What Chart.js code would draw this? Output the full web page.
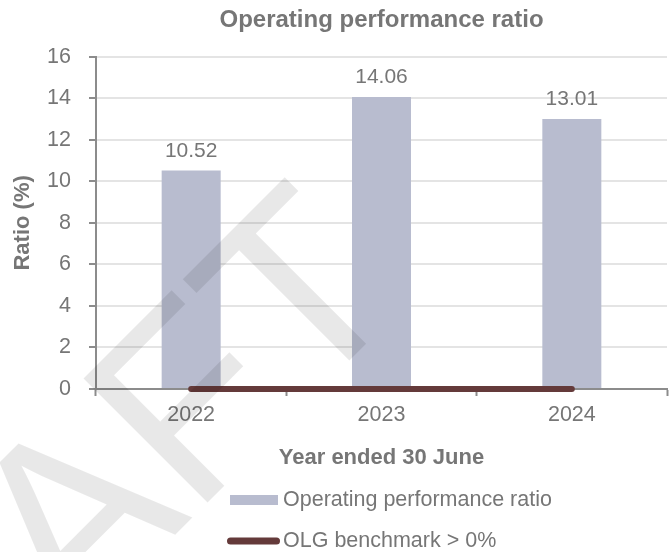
<!DOCTYPE html>
<html>
<head>
<meta charset="utf-8">
<script src="https://cdn.jsdelivr.net/npm/chart.js@4.4.1/dist/chart.umd.min.js"></script>
<style>
  html, body { margin: 0; padding: 0; background: #fff; }
  #chart { display: block; }
</style>
</head>
<body>
<canvas id="chart" width="669" height="552"></canvas>
<script>
// Chart values
const years = ['2022', '2023', '2024'];
const ratioValues = [10.52, 14.06, 13.01];
const benchmarkValues = [0, 0, 0];
const yTicks = [0, 2, 4, 6, 8, 10, 12, 14, 16];
const seriesNames = ['Operating performance ratio', 'OLG benchmark > 0%'];
const watermarkText = 'DRAFT';

const barColor = '#b8bccf';
const lineColor = '#643a3a';
const textColor = '#767676';
const axisColor = '#8c8c8c';
const gridColor = '#e4e4e4';
const fontFamily = '"Liberation Sans", Arial, sans-serif';

// Big diagonal watermark over the plot
const watermark = {
    id: 'watermark',
    afterDatasetsDraw(chart) {
        const ctx = chart.ctx;
        ctx.save();
        ctx.translate(413, 297);
        ctx.rotate(-Math.PI / 4);
        ctx.font = '255px ' + fontFamily;
        ctx.fillStyle = 'rgba(0, 0, 0, 0.09)';
        ctx.textAlign = 'right';
        ctx.textBaseline = 'alphabetic';
        ctx.fillText(watermarkText, 0, 0);
        ctx.restore();
    }
};

// Value labels above the bars
const barLabels = {
    id: 'barLabels',
    afterDatasetsDraw(chart) {
        const ctx = chart.ctx;
        const index = chart.data.datasets.findIndex(d => d.type === 'bar');
        const meta = chart.getDatasetMeta(index);
        ctx.save();
        ctx.font = '21px ' + fontFamily;
        ctx.fillStyle = textColor;
        ctx.textAlign = 'center';
        ctx.textBaseline = 'alphabetic';
        meta.data.forEach((bar, i) => {
            ctx.fillText(ratioValues[i].toFixed(2), bar.x, bar.y - 14);
        });
        ctx.restore();
    }
};

// Legend stacked in two left-aligned rows
const stackedLegend = {
    id: 'stackedLegend',
    afterDraw(chart) {
        const ctx = chart.ctx;
        const rows = [500, 541];
        const x0 = 230;
        const textX = 283;
        ctx.save();
        ctx.fillStyle = barColor;
        ctx.fillRect(x0, rows[0] - 5, 48, 10);

        ctx.strokeStyle = lineColor;
        ctx.lineWidth = 7;
        ctx.lineCap = 'round';
        ctx.beginPath();
        ctx.moveTo(x0 + 0.5, rows[1]);
        ctx.lineTo(x0 + 46.5, rows[1]);
        ctx.stroke();

        ctx.font = '21.5px ' + fontFamily;
        ctx.fillStyle = textColor;
        ctx.textAlign = 'left';
        ctx.textBaseline = 'middle';
        ctx.fillText(seriesNames[0], textX, rows[0]);
        ctx.fillText(seriesNames[1], textX, rows[1]);
        ctx.restore();
    }
};

const tickFont = { family: fontFamily, size: 21.5 };
const titleFont = { family: fontFamily, size: 22, weight: 'bold' };

new Chart(document.getElementById('chart'), {
    data: {
        labels: years,
        datasets: [
            {
                type: 'line',
                label: seriesNames[1],
                data: benchmarkValues,
                borderColor: lineColor,
                borderWidth: 6,
                borderCapStyle: 'round',
                pointRadius: 0,
                clip: false,
                order: 0
            },
            {
                type: 'bar',
                label: seriesNames[0],
                data: ratioValues,
                backgroundColor: barColor,
                barPercentage: 0.31,
                categoryPercentage: 1,
                order: 1
            }
        ]
    },
    options: {
        responsive: false,
        animation: false,
        layout: { padding: { left: 0, right: 2, top: 0, bottom: 77 } },
        plugins: {
            legend: { display: false },
            tooltip: { enabled: false },
            title: {
                display: true,
                text: 'Operating performance ratio',
                color: textColor,
                font: { family: fontFamily, size: 24, weight: 'bold' },
                padding: { top: 6, bottom: 22 },
                fullSize: false
            }
        },
        scales: {
            x: {
                offset: true,
                grid: {
                    display: true,
                    drawOnChartArea: false,
                    offset: true,
                    tickLength: 7,
                    tickWidth: 2,
                    tickColor: axisColor,
                    color: axisColor
                },
                border: { display: true, color: axisColor, width: 2 },
                ticks: { color: textColor, font: tickFont, padding: 6, maxRotation: 0 },
                title: {
                    display: true,
                    text: 'Year ended 30 June',
                    color: textColor,
                    font: titleFont,
                    padding: { top: 0, bottom: 4 }
                },
                afterFit: axis => { axis.height = 86; }
            },
            y: {
                min: 0,
                max: 16,
                afterBuildTicks: axis => { axis.ticks = yTicks.map(v => ({ value: v })); },
                grid: {
                    color: gridColor,
                    lineWidth: 2,
                    tickLength: 7,
                    tickWidth: 2,
                    tickColor: axisColor
                },
                border: { color: axisColor, width: 2 },
                ticks: { color: textColor, font: tickFont, padding: 18 },
                title: {
                    display: true,
                    text: 'Ratio (%)',
                    color: textColor,
                    font: titleFont,
                    padding: { top: 10, bottom: 0 }
                },
                afterFit: axis => { axis.width = 96; }
            }
        }
    },
    plugins: [watermark, barLabels, stackedLegend]
});
</script>
</body>
</html>
